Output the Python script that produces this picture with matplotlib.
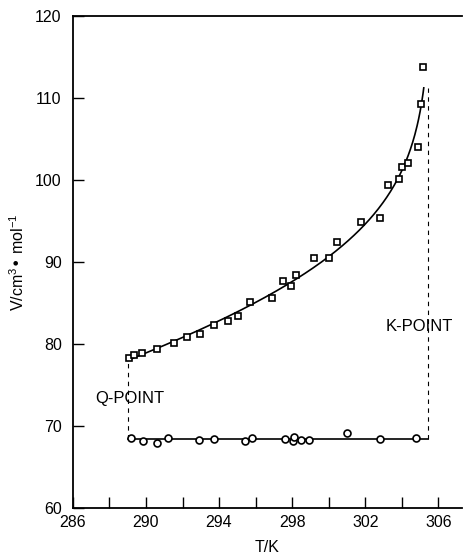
import matplotlib
matplotlib.use("Agg")
import matplotlib.pyplot as plt
import numpy as np

plt.rcParams['font.family'] = ['Liberation Sans', 'DejaVu Sans']
plt.rcParams['mathtext.default'] = 'regular'

# upper branch (squares)
T_up = [289.07, 289.34, 289.78, 290.6, 291.53, 292.25, 292.96, 293.73, 294.49,
        295.04, 295.70, 296.90, 297.51, 297.95, 298.22, 299.21, 300.03, 300.47,
        301.78, 302.82, 303.26, 303.86, 304.03, 304.36, 304.90, 305.07, 305.18]
V_up = [78.3, 78.7, 78.9, 79.4, 80.1, 80.85, 81.2, 82.3, 82.8,
        83.4, 85.1, 85.6, 87.7, 87.1, 88.4, 90.5, 90.5, 92.4,
        94.9, 95.4, 99.4, 100.1, 101.5, 102.0, 104.0, 109.2, 113.7]

# lower branch (circles)
T_low = [289.18, 289.84, 290.6, 291.2, 292.9, 293.7, 295.4, 295.8, 297.6,
         298.05, 298.1, 298.5, 298.9, 301.0, 302.8, 304.8]
V_low = [68.55, 68.2, 67.95, 68.55, 68.25, 68.45, 68.15, 68.5, 68.4,
         68.2, 68.65, 68.35, 68.35, 69.2, 68.45, 68.55]

T_Q, T_K = 289.0, 305.45
Tc = 305.6

fig = plt.figure(figsize=(4.64, 5.59), dpi=100)
ax = fig.add_axes([0.157, 0.091, 0.839, 0.881])

# smooth curve through upper points: V = a + b*T + c*log(Tc - T)
Tu = np.array(T_up)
A = np.column_stack([np.ones_like(Tu), Tu, np.log(Tc - Tu)])
coef, *_ = np.linalg.lstsq(A, np.array(V_up), rcond=None)
tt = np.linspace(T_Q, 305.2, 400)
vv = coef[0] + coef[1] * tt + coef[2] * np.log(Tc - tt)
ax.plot(tt, vv, color='black', lw=1.2)

# lower line
v0 = np.mean(V_low)
ax.plot([T_Q, T_K], [v0, v0], color='black', lw=1.2)

# dashed guides
vq = coef[0] + coef[1] * T_Q + coef[2] * np.log(Tc - T_Q)
ax.plot([T_Q, T_Q], [v0, vq], color='black', lw=0.8, ls=(0, (4, 4)))
ax.plot([T_K, T_K], [v0, vv[-1]], color='black', lw=0.8, ls=(0, (4, 4)))

ax.plot(T_up, V_up, ls='none', marker='s', ms=5, mfc='white', mec='black', mew=1.2)
ax.plot(T_low, V_low, ls='none', marker='o', ms=5, mfc='white', mec='black', mew=1.2)

ax.text(289.1, 73.3, 'Q-POINT', ha='center', va='center', fontsize=12)
ax.text(304.95, 82.1, 'K-POINT', ha='center', va='center', fontsize=12)

ax.set_xlim(286, 307.3)
ax.set_ylim(60, 120)
ax.set_xticks(range(286, 307, 4))
ax.set_xticks(range(286, 307, 2), minor=True)
ax.set_yticks(range(60, 121, 10))
ax.tick_params(direction='in', length=8, width=1, labelsize=11.5, pad=5)
ax.tick_params(which='minor', direction='in', length=8, width=1)
ax.tick_params(axis='y', pad=8)
ax.spines['right'].set_visible(False)
for s in ['left', 'bottom', 'top']:
    ax.spines[s].set_linewidth(1.3)

ax.set_xlabel('T/K', fontsize=11.5, labelpad=7)
ax.set_ylabel('V/cm$^{3}$• mol$^{-1}$', fontsize=11.5, labelpad=6)

fig.savefig('out.png', dpi=100)
